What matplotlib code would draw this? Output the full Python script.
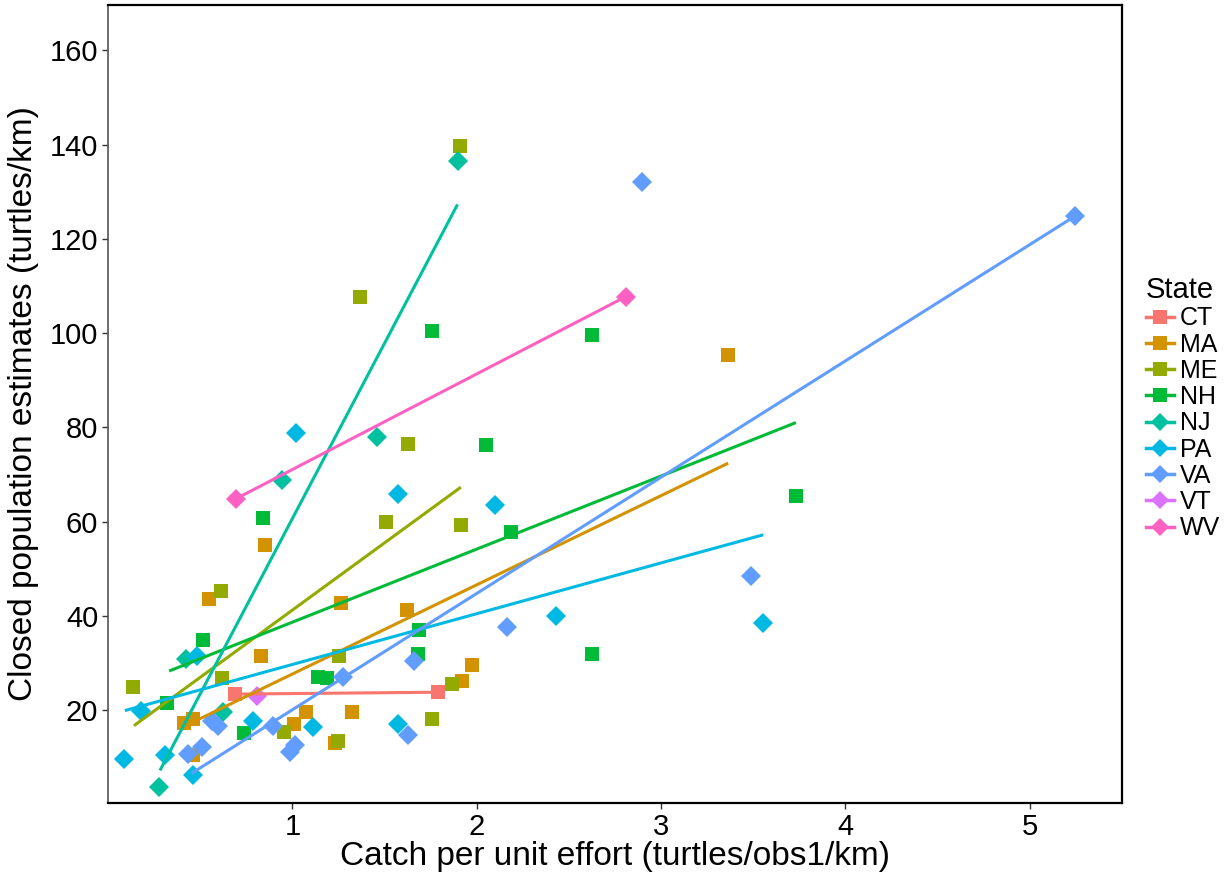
import matplotlib
matplotlib.use("Agg")
import matplotlib.pyplot as plt
from matplotlib.lines import Line2D

plt.rcParams['font.family'] = ['Liberation Sans', 'DejaVu Sans']

# --- Observations per state: CPUE (x) vs closed population estimate (y) ---
ct_x = [0.689, 1.791]
ct_y = [23.4, 23.8]
ma_x = [3.362, 0.851, 0.548, 1.264, 1.621, 0.830, 1.972, 1.918, 1.321, 1.074, 1.010, 0.412, 0.463, 0.463, 1.231]
ma_y = [95.3, 55.0, 43.5, 42.8, 41.3, 31.4, 29.6, 26.1, 19.7, 19.7, 17.0, 17.2, 18.1, 10.4, 13.1]
me_x = [1.912, 1.367, 1.625, 1.506, 1.914, 0.613, 0.137, 0.620, 1.254, 0.956, 1.759, 1.864, 1.247]
me_y = [139.7, 107.7, 76.4, 60.0, 59.3, 45.3, 25.0, 26.8, 31.4, 15.3, 18.1, 25.6, 13.5]
nh_x = [1.755, 2.623, 2.050, 0.842, 2.184, 3.731, 2.625, 0.517, 0.322, 1.688, 1.683, 1.141, 1.186, 0.739]
nh_y = [100.4, 99.6, 76.3, 60.8, 57.7, 65.5, 31.9, 34.9, 21.6, 37.0, 31.9, 27.0, 26.8, 15.1]
nj_x = [1.898, 1.457, 0.942, 0.423, 0.625, 0.277]
nj_y = [136.6, 78.0, 68.8, 30.9, 19.7, 3.7]
pa_x = [1.018, 1.574, 2.099, 2.429, 3.554, 0.179, 0.088, 0.309, 0.463, 0.785, 1.110, 1.571, 0.481]
pa_y = [78.9, 65.9, 63.5, 39.9, 38.5, 19.9, 9.7, 10.5, 6.3, 17.6, 16.4, 17.1, 31.4]
va_x = [5.244, 2.894, 3.487, 2.164, 1.661, 1.273, 1.625, 0.562, 0.595, 0.508, 0.436, 0.897, 0.987, 1.014]
va_y = [124.8, 132.1, 48.5, 37.7, 30.5, 27.1, 14.8, 17.6, 16.7, 12.1, 10.7, 16.7, 11.2, 12.6]
vt_x = [0.806]
vt_y = [22.9]
wv_x = [0.692, 2.807]
wv_y = [64.8, 107.7]

# --- Linear fit end points (x range, fitted y) ---
ct_fit_x, ct_fit_y = [0.689, 1.791], [23.4, 23.8]
ma_fit_x, ma_fit_y = [0.49, 3.364], [18.0, 72.4]
me_fit_x, me_fit_y = [0.141, 1.914], [16.7, 67.3]
nh_fit_x, nh_fit_y = [0.332, 3.731], [28.3, 81.0]
nj_fit_x, nj_fit_y = [0.282, 1.896], [7.2, 127.3]
pa_fit_x, pa_fit_y = [0.092, 3.554], [19.9, 57.2]
va_fit_x, va_fit_y = [0.454, 5.244], [6.6, 124.8]
wv_fit_x, wv_fit_y = [0.692, 2.807], [64.8, 107.7]

states = ["CT", "MA", "ME", "NH", "NJ", "PA", "VA", "VT", "WV"]
colors = ["#F8766D", "#D39200", "#93AA00", "#00BA38", "#00C19F",
          "#00B9E3", "#619CFF", "#DB72FB", "#FF61C3"]
markers = ["s", "s", "s", "s", "D", "D", "D", "D", "D"]

points = [(ct_x, ct_y), (ma_x, ma_y), (me_x, me_y), (nh_x, nh_y), (nj_x, nj_y),
          (pa_x, pa_y), (va_x, va_y), (vt_x, vt_y), (wv_x, wv_y)]
fits = [(ct_fit_x, ct_fit_y), (ma_fit_x, ma_fit_y), (me_fit_x, me_fit_y),
        (nh_fit_x, nh_fit_y), (nj_fit_x, nj_fit_y), (pa_fit_x, pa_fit_y),
        (va_fit_x, va_fit_y), None, (wv_fit_x, wv_fit_y)]

fig = plt.figure(figsize=(12.31, 8.82), dpi=100)
ax = fig.add_axes([0.0877, 0.0896, 0.9115 - 0.0877, 0.9943 - 0.0896])

for (px, py), col, mk in zip(points, colors, markers):
    ms = 10.5 if mk == "s" else 10
    ax.plot(px, py, linestyle="none", marker=mk, ms=ms, color=col,
            markeredgewidth=0, zorder=2)

for fit, col in zip(fits, colors):
    if fit is None:
        continue
    ax.plot(fit[0], fit[1], color=col, lw=2.2, zorder=3, solid_capstyle="butt")

ax.set_xlim(0, 5.5)
ax.set_ylim(0.3, 169.6)
ax.set_xticks([1, 2, 3, 4, 5])
ax.set_yticks([20, 40, 60, 80, 100, 120, 140, 160])
ax.tick_params(labelsize=21, length=4, width=1, color="#333333", pad=3)

for side in ["top", "right", "bottom"]:
    ax.spines[side].set_color("black")
    ax.spines[side].set_linewidth(1.6)
ax.spines["left"].set_color("#555555")
ax.spines["left"].set_linewidth(1.2)

ax.set_xlabel("Catch per unit effort (turtles/obs1/km)", fontsize=24, labelpad=0)
ax.set_ylabel("Closed population estimates (turtles/km)", fontsize=24, labelpad=8)

handles = [Line2D([0], [0], color=c, marker=m, ms=(9.5 if m == "s" else 9),
                  markeredgewidth=0, lw=2.5)
           for c, m in zip(colors, markers)]
leg = fig.legend(handles, states, title="State", loc="upper left",
                 bbox_to_anchor=(0.931, 0.687), frameon=False, fontsize=18,
                 title_fontsize=21, handlelength=1.1, handletextpad=0.25,
                 labelspacing=0.09, borderaxespad=0, borderpad=0)
leg._legend_box.align = "left"

fig.savefig("out.png", dpi=100)
